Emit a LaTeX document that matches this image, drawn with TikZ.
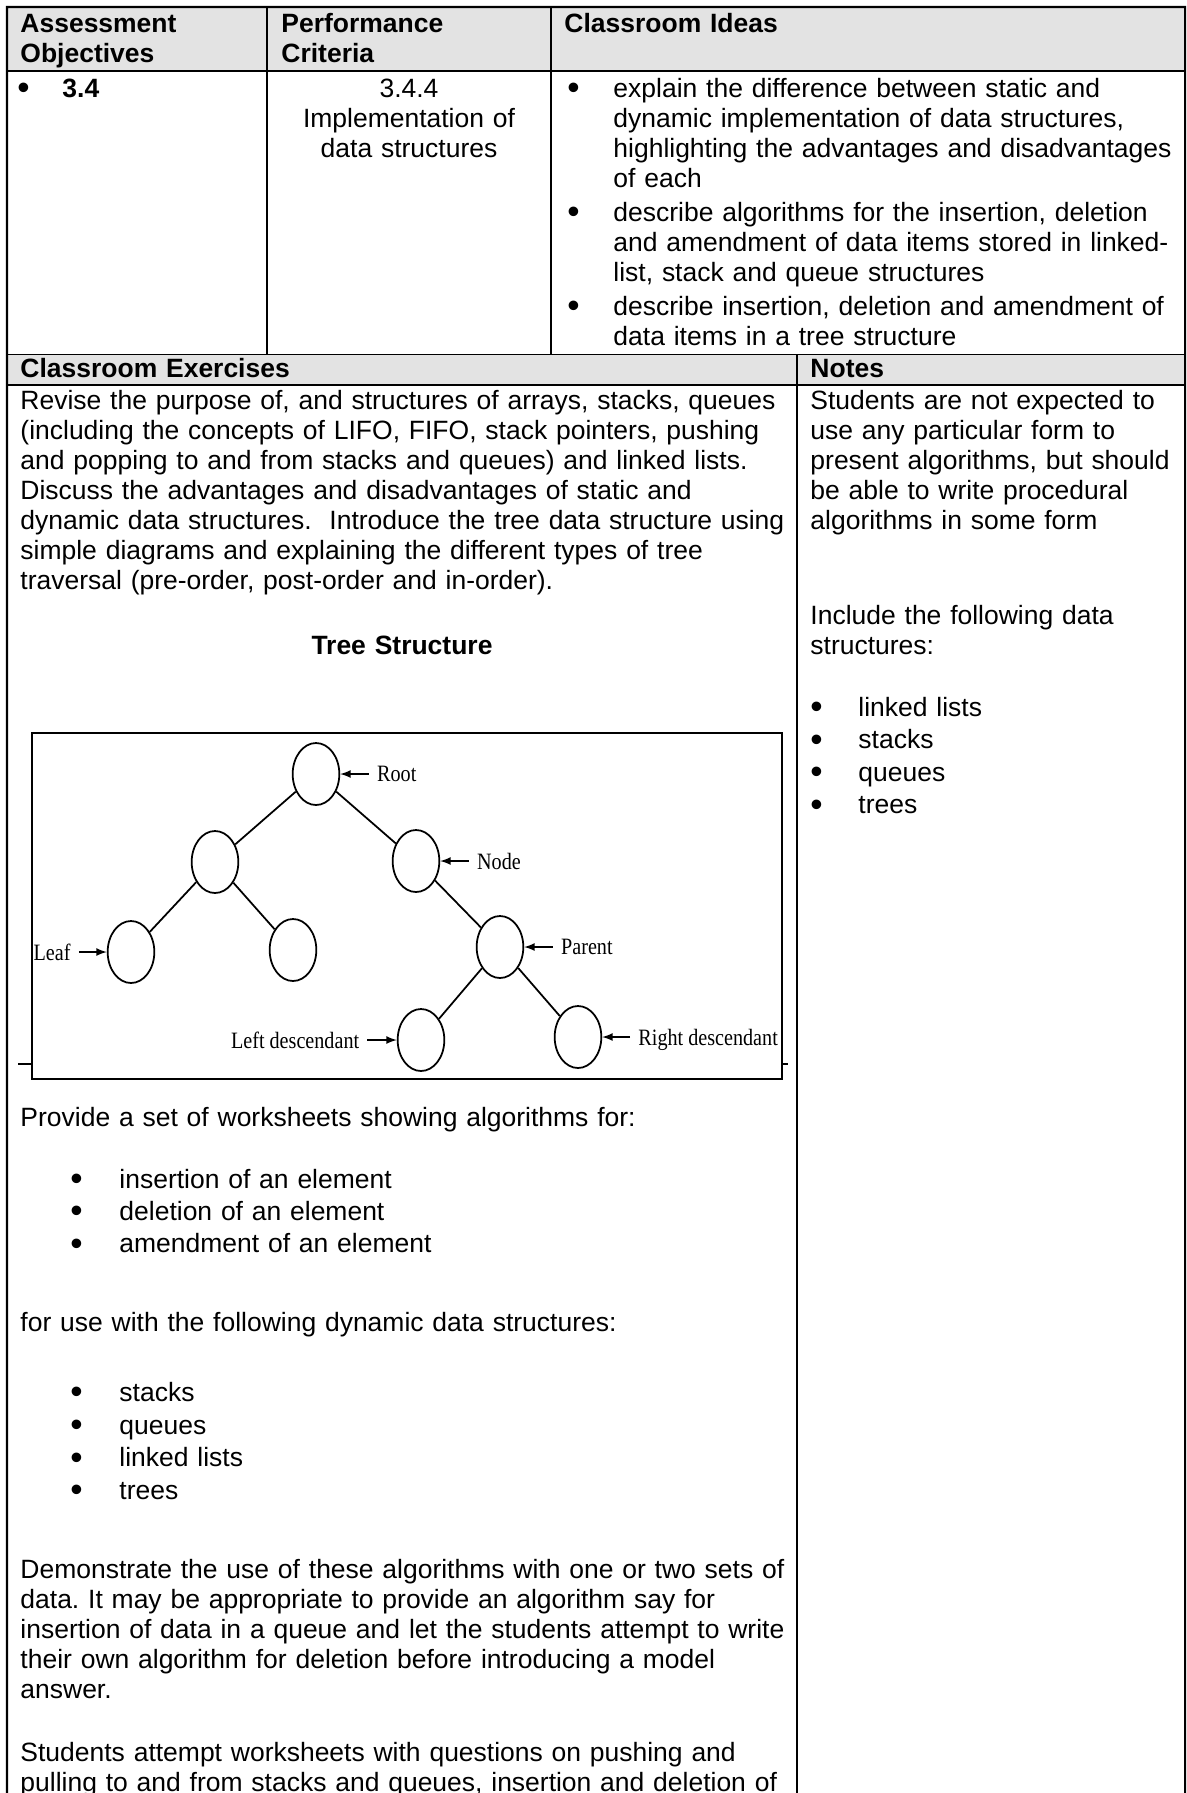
\documentclass[tikz,border=0pt]{standalone}
\usepackage{fontspec}
\setmainfont{Liberation Sans}
\newfontfamily\treefont[FakeStretch=0.86]{Liberation Serif}
\usetikzlibrary{positioning,shapes.geometric}

\definecolor{hdrgray}{gray}{0.89}
\newcommand\bodyfont{\fontsize{11.3}{12.8}\selectfont}
\newcommand\bulfont{\fontsize{15}{12.8}\selectfont}

\tikzset{
  cell/.style={rectangle, draw, anchor=north west, inner sep=0pt, outer sep=0pt, line width=0.45pt},
  hdr/.style={fill=hdrgray},
  frame/.style={line width=0.9pt},
  txt/.style={anchor=north west, inner sep=0pt, text width=#1, align=left, font=\bodyfont, execute at begin node=\strut},
  txt/.default=12cm,
  bul/.style={anchor=north west, inner sep=0pt, yshift=-1pt, font=\bulfont, execute at begin node=\strut},
  tnode/.style={ellipse, draw, line width=0.75pt, minimum width=0.7cm, minimum height=0.93cm, inner sep=0pt},
  tlbl/.style={font=\treefont\fontsize{10}{12}\selectfont, text depth=0pt},
  tedge/.style={line width=0.75pt},
  tarr/.style={-latex, line width=0.55pt}
}

\begin{document}
\frenchspacing
\begin{tikzpicture}[x=0.015cm, y=-0.015cm]
\useasboundingbox (0,0) rectangle (1187,1793);
\clip (0,0) rectangle (1187,1793);

% top header row
\draw (7,7) node (aohd) [cell, hdr, minimum width=3.9cm, minimum height=0.96cm] {};
\draw (aohd.north east) node (pchd) [cell, hdr, minimum width=4.26cm, minimum height=0.96cm] {};
\draw (pchd.north east) node (cihd) [cell, hdr, minimum width=9.51cm, minimum height=0.96cm] {};

\draw (aohd.south west) node (ao) [cell, minimum width=3.9cm, minimum height=4.245cm] {};
\draw (ao.north east) node (pc) [cell, minimum width=4.26cm, minimum height=4.245cm] {};
\draw (pc.north east) node (ci) [cell, minimum width=9.51cm, minimum height=4.245cm] {};

% second header row
\draw (ao.south west) node (cehd) [cell, hdr, minimum width=11.85cm, minimum height=0.465cm] {};
\draw (cehd.north east) node (nthd) [cell, hdr, minimum width=5.82cm, minimum height=0.465cm] {};

\draw (cehd.south west) node (ce) [cell, minimum width=11.85cm, minimum height=22cm] {};
\draw (ce.north east) node (nt) [cell, minimum width=5.82cm, minimum height=22cm] {};

\draw [frame] (ce.south west) -- (aohd.north west) -- (cihd.north east) -- (nt.south east);
\draw [frame] (aohd.south west) -- (cihd.south east);
\draw [frame] (cehd.south west) -- (nthd.south east);
\draw [frame] (nthd.north west) -- (nt.south west);

% headers
\draw (20,11.5) node (aotx) [txt=3.6cm, font=\bodyfont\bfseries] {Assessment\\Objectives};
\draw (281,11.5) node (pctx) [txt=4cm, font=\bodyfont\bfseries] {Performance\\Criteria};
\draw (564,11.5) node (citx) [txt=9cm, font=\bodyfont\bfseries] {Classroom Ideas};

\draw (17,76) node (aob) [bul] {\textbullet};
\draw (62,76) node (aonum) [txt=2cm, font=\bodyfont\bfseries] {3.4};

\draw (409,76) node (pcnum) [txt=4cm, anchor=north, align=center] {3.4.4\\Implementation of\\data structures};

\draw (567,76) node (cib1) [bul] {\textbullet};
\draw (613,76) node (cit1) [txt=9cm] {explain the difference between static and\\dynamic implementation of data structures,\\highlighting the advantages and disadvantages\\of each};
\draw (567,200) node (cib2) [bul] {\textbullet};
\draw (613,200) node (cit2) [txt=9cm] {describe algorithms for the insertion, deletion\\and amendment of data items stored in linked-\\list, stack and queue structures};
\draw (567,294) node (cib3) [bul] {\textbullet};
\draw (613,294) node (cit3) [txt=9cm] {describe insertion, deletion and amendment of\\data items in a tree structure};

\draw (20,356) node (cetx) [txt, font=\bodyfont\bfseries] {Classroom Exercises};
\draw (810,356) node (nttx) [txt=5.5cm, font=\bodyfont\bfseries] {Notes};

% exercises column
\draw (20,388.5) node (revise) [txt] {Revise the purpose of, and structures of arrays, stacks, queues\\(including the concepts of LIFO, FIFO, stack pointers, pushing\\and popping to and from stacks and queues) and linked lists.\\Discuss the advantages and disadvantages of static and\\dynamic data structures.\ \ Introduce the tree data structure using\\simple diagrams and explaining the different types of tree\\traversal (pre-order, post-order and in-order).};

\draw (402,633) node (tstx) [txt=5cm, anchor=north, align=center, font=\bodyfont\bfseries] {Tree Structure};

% tree picture
\draw (32,733) node (treebox) [cell, line width=0.6pt, minimum width=11.25cm, minimum height=5.19cm] {};
\draw [frame] (treebox.south west) ++(0,-15) -- +(-14,0);
\draw [frame] (treebox.south east) ++(0,-15) -- +(6,0);

\draw (316,774) node (root) [tnode] {};
\draw (215,862) node (lc) [tnode] {};
\draw (416,861) node (nd) [tnode] {};
\draw (131,952) node (leaf) [tnode] {};
\draw (293,950) node (lc2) [tnode] {};
\draw (500,947) node (par) [tnode] {};
\draw (421,1040) node (ld) [tnode] {};
\draw (578,1037) node (rd) [tnode] {};

\draw [tedge] (root) -- (lc);
\draw [tedge] (root) -- (nd);
\draw [tedge] (lc) -- (leaf);
\draw [tedge] (lc) -- (lc2);
\draw [tedge] (nd) -- (par);
\draw [tedge] (par) -- (ld);
\draw [tedge] (par) -- (rd);

\node (rootlbl) [tlbl, right=0.43cm of root] {Root};
\node (ndlbl) [tlbl, right=0.43cm of nd] {Node};
\node (parlbl) [tlbl, right=0.43cm of par] {Parent};
\node (leaflbl) [tlbl, left=0.42cm of leaf] {Leaf};
\node (ldlbl) [tlbl, left=0.44cm of ld] {Left descendant};
\node (rdlbl) [tlbl, right=0.42cm of rd] {Right descendant};

\draw [tarr] (rootlbl) -- (root);
\draw [tarr] (ndlbl) -- (nd);
\draw [tarr] (parlbl) -- (par);
\draw [tarr] (leaflbl) -- (leaf);
\draw [tarr] (ldlbl) -- (ld);
\draw [tarr] (rdlbl) -- (rd);

\draw (20,1105) node (provide) [txt] {Provide a set of worksheets showing algorithms for:};
\draw (70,1167) node (pb1) [bul] {\textbullet};
\draw (119,1167) node (pt1) [txt=8cm] {insertion of an element};
\draw (70,1199) node (pb2) [bul] {\textbullet};
\draw (119,1199) node (pt2) [txt=8cm] {deletion of an element};
\draw (70,1231.5) node (pb3) [bul] {\textbullet};
\draw (119,1231.5) node (pt3) [txt=8cm] {amendment of an element};

\draw (20,1310) node (foruse) [txt] {for use with the following dynamic data structures:};
\draw (70,1380) node (db1) [bul] {\textbullet};
\draw (119,1380) node (dt1) [txt=8cm] {stacks};
\draw (70,1413) node (db2) [bul] {\textbullet};
\draw (119,1413) node (dt2) [txt=8cm] {queues};
\draw (70,1445.5) node (db3) [bul] {\textbullet};
\draw (119,1445.5) node (dt3) [txt=8cm] {linked lists};
\draw (70,1478) node (db4) [bul] {\textbullet};
\draw (119,1478) node (dt4) [txt=8cm] {trees};

\draw (20,1557) node (demo) [txt] {Demonstrate the use of these algorithms with one or two sets of\\data. It may be appropriate to provide an algorithm say for\\insertion of data in a queue and let the students attempt to write\\their own algorithm for deletion before introducing a model\\answer.};

\draw (20,1740) node (attempt) [txt] {Students attempt worksheets with questions on pushing and\\pulling to and from stacks and queues, insertion and deletion of};

% notes column
\draw (810,388.5) node (ntp1) [txt=5.5cm] {Students are not expected to\\use any particular form to\\present algorithms, but should\\be able to write procedural\\algorithms in some form};
\draw (810,603) node (ntp2) [txt=5.5cm] {Include the following data\\structures:};
\draw (810,695) node (nb1) [bul] {\textbullet};
\draw (858,695) node (nl1) [txt=4.5cm] {linked lists};
\draw (810,727.5) node (nb2) [bul] {\textbullet};
\draw (858,727.5) node (nl2) [txt=4.5cm] {stacks};
\draw (810,760) node (nb3) [bul] {\textbullet};
\draw (858,760) node (nl3) [txt=4.5cm] {queues};
\draw (810,792.5) node (nb4) [bul] {\textbullet};
\draw (858,792.5) node (nl4) [txt=4.5cm] {trees};

\end{tikzpicture}
\end{document}
